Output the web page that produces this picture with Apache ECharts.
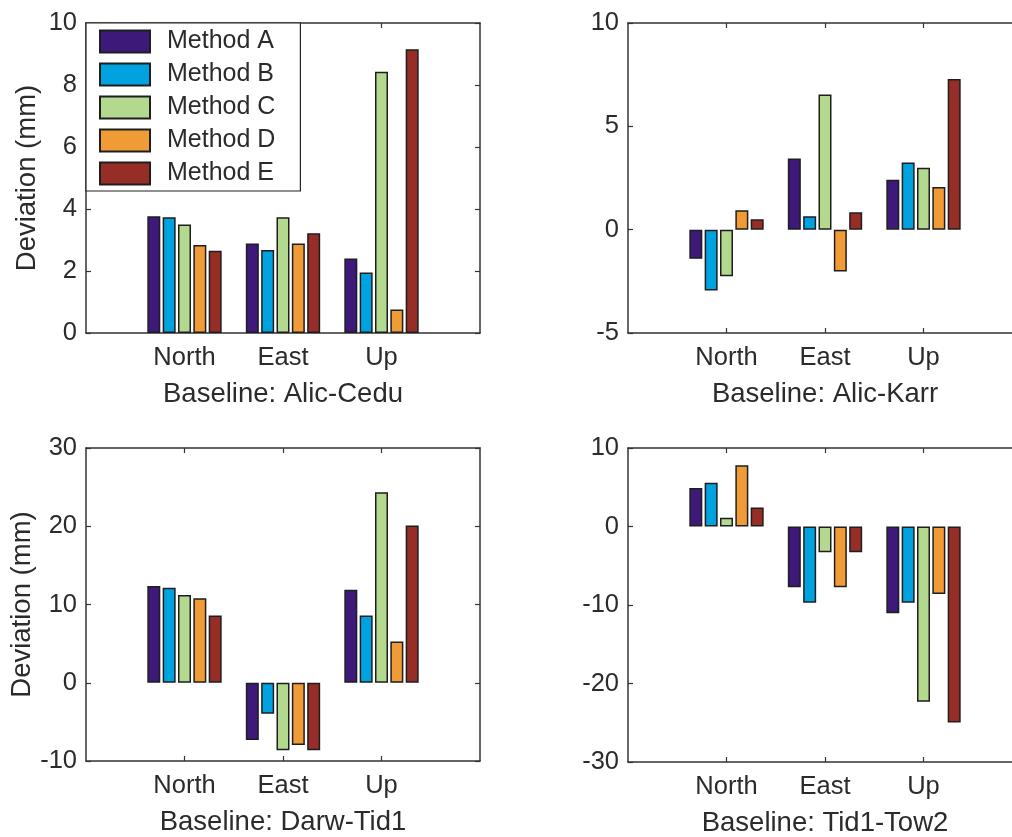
<!DOCTYPE html>
<html>
<head>
<meta charset="utf-8">
<script src="https://cdn.jsdelivr.net/npm/echarts@6/dist/echarts.min.js"></script>
<style>
html,body{margin:0;padding:0;background:#fff;overflow:hidden;width:1012px;height:837px;}
#chart{width:1032px;height:837px;}
</style>
</head>
<body>
<div id="chart"></div>
<script>
// ---- data ----
const categories = ['North', 'East', 'Up'];
const methods = ['Method A', 'Method B', 'Method C', 'Method D', 'Method E'];
const methodColors = ['#3d1a7a', '#00a3e0', '#b3d98f', '#f09b36', '#962e27'];

// rows = methods A..E, columns = North, East, Up
const alicCedu = [
  [3.77, 2.89, 2.40],
  [3.73, 2.68, 1.95],
  [3.50, 3.73, 8.43],
  [2.84, 2.89, 0.76],
  [2.65, 3.22, 9.15]
];
const alicKarr = [
  [-1.41, 3.44, 2.42],
  [-2.94, 0.65, 3.25],
  [-2.26, 6.54, 3.00],
  [0.94, -2.02, 2.07],
  [0.50, 0.84, 7.29]
];
const darwTid1 = [
  [12.38, -7.32, 11.87],
  [12.13, -3.96, 8.60],
  [11.23, -8.64, 24.34],
  [10.80, -7.96, 5.28],
  [8.60, -8.64, 20.09]
];
const tid1Tow2 = [
  [4.89, -7.74, -11.06],
  [5.57, -9.70, -9.70],
  [1.10, -3.28, -22.34],
  [7.79, -7.74, -8.60],
  [2.43, -3.28, -24.98]
];

const baselineNames = ['Baseline: Alic-Cedu', 'Baseline: Alic-Karr', 'Baseline: Darw-Tid1', 'Baseline: Tid1-Tow2'];
const yMins = [0, -5, -10, -30];
const yMaxs = [10, 10, 30, 10];
const yIntervals = [2, 5, 10, 10];
const yAxisTitle = 'Deviation (mm)';

// ---- layout/styles ----
const panels = [alicCedu, alicKarr, darwTid1, tid1Tow2];
const grids = [
  {left: 86, top: 23, width: 394, height: 310},
  {left: 628, top: 23, width: 394, height: 310},
  {left: 86, top: 448, width: 394, height: 313},
  {left: 628, top: 448, width: 394, height: 314}
];
const FONT = '"Liberation Sans", Arial, Helvetica, sans-serif';
const TXT = '#2b2b2b';
const LINE = '#333';
const paddedCats = [''].concat(categories, ['']);
const tickFn = function (idx) { return idx >= 1 && idx <= categories.length; };
const boxLine = {show: true, onZero: false, lineStyle: {color: LINE, width: 1.5}};
const tickStyle = {show: true, inside: true, length: 5, lineStyle: {color: LINE, width: 1.2}};

const xAxes = [], yAxes = [], series = [];
panels.forEach(function (panel, p) {
  const rightCol = p % 2 === 1;
  xAxes.push({
    gridIndex: p, type: 'category', data: paddedCats, boundaryGap: false, position: 'bottom',
    axisLine: boxLine,
    axisTick: Object.assign({interval: tickFn}, tickStyle),
    axisLabel: {interval: 0, fontSize: 25.5, color: TXT, fontFamily: FONT, margin: 12},
    splitLine: {show: false},
    name: baselineNames[p], nameLocation: 'middle', nameGap: 47,
    nameTextStyle: {fontSize: 27.5, color: TXT, fontFamily: FONT}
  });
  xAxes.push({
    gridIndex: p, type: 'category', data: paddedCats, boundaryGap: false, position: 'top',
    axisLine: boxLine,
    axisTick: Object.assign({interval: tickFn}, tickStyle),
    axisLabel: {show: false}, splitLine: {show: false}
  });
  const yMain = {
    gridIndex: p, type: 'value', min: yMins[p], max: yMaxs[p], interval: yIntervals[p], position: 'left',
    axisLine: boxLine,
    axisTick: tickStyle,
    axisLabel: {fontSize: 25.5, color: TXT, fontFamily: FONT, margin: 9},
    splitLine: {show: false}
  };
  if (!rightCol) {
    yMain.name = yAxisTitle;
    yMain.nameLocation = 'middle';
    yMain.nameGap = 45;
    yMain.nameTextStyle = {fontSize: 27.5, color: TXT, fontFamily: FONT};
  }
  yAxes.push(yMain);
  yAxes.push({
    gridIndex: p, type: 'value', min: yMins[p], max: yMaxs[p], interval: yIntervals[p], position: 'right',
    axisLine: rightCol ? {show: false, onZero: false} : boxLine,
    axisTick: rightCol ? {show: false} : tickStyle,
    axisLabel: {show: false}, splitLine: {show: false}
  });
  panel.forEach(function (vals, m) {
    series.push({
      type: 'bar', name: methods[m],
      xAxisIndex: p * 2, yAxisIndex: p * 2,
      data: [null].concat(vals, [null]),
      barWidth: 13, barGap: '18%',
      itemStyle: {color: methodColors[m], borderColor: '#1e1e1e', borderWidth: 1.5},
      emphasis: {disabled: true},
      animation: false
    });
  });
});

const chart = echarts.init(document.getElementById('chart'), null, {renderer: 'canvas'});
chart.setOption({
  animation: false,
  backgroundColor: '#fff',
  textStyle: {fontFamily: FONT},
  grid: grids.map(function (g) {
    return Object.assign({show: false, containLabel: false, outerBoundsMode: 'none'}, g);
  }),
  legend: {
    data: methods, orient: 'vertical', left: 86, top: 23,
    icon: 'rect', itemWidth: 50, itemHeight: 22, itemGap: 8,
    padding: [6, 25, 5, 13],
    backgroundColor: '#fff', borderColor: '#222', borderWidth: 1.2,
    textStyle: {fontSize: 25, color: TXT, fontFamily: FONT, lineHeight: 22, padding: [0, 0, 0, 12]},
    selectedMode: false
  },
  xAxis: xAxes,
  yAxis: yAxes,
  series: series
});
</script>
</body>
</html>
